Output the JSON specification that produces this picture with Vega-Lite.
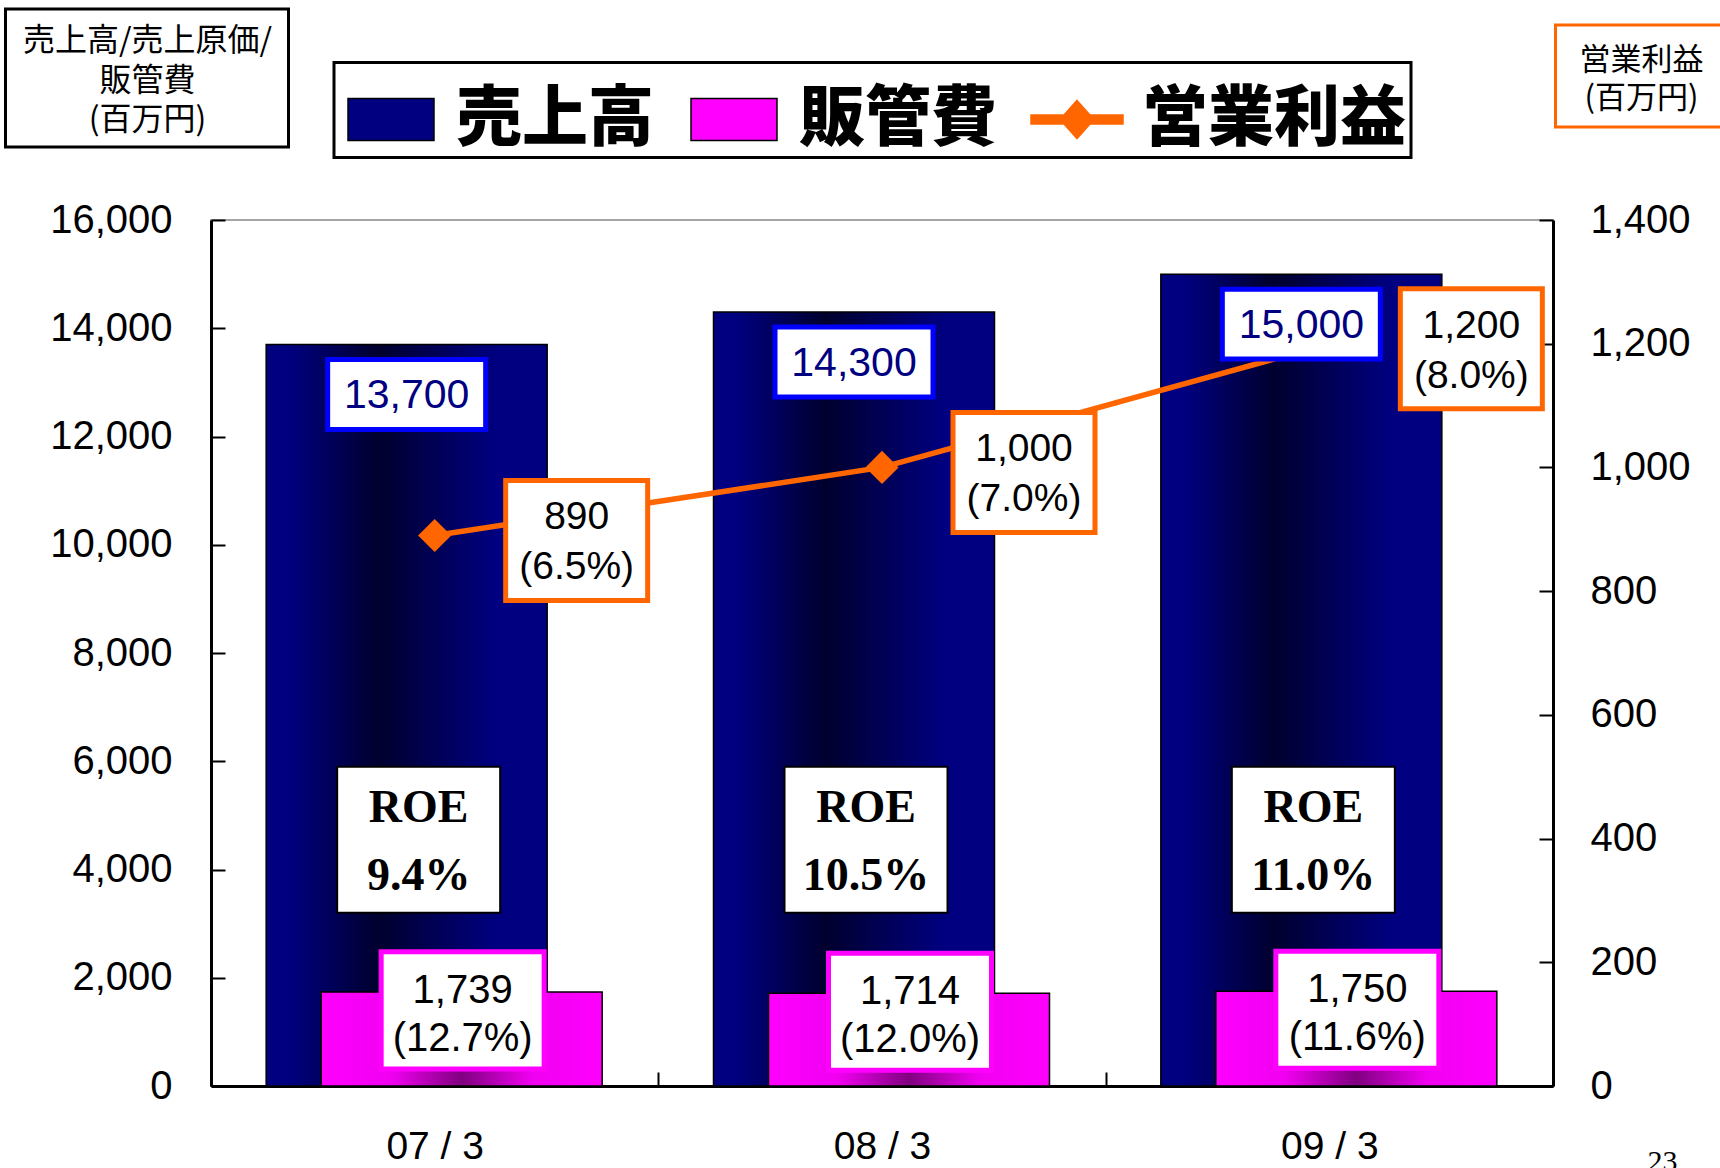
{
  "$schema": "https://vega.github.io/schema/vega-lite/v6.json",
  "width": 1342,
  "height": 866,
  "autosize": {"type": "none"},
  "padding": {"left": 211, "top": 220, "right": 167, "bottom": 82},
  "background": "white",
  "data": {
    "values": [
      {"period": "07/3", "sales": 13700, "sga": 1739, "sga_ratio": "(12.7%)", "op": 890, "op_ratio": "(6.5%)", "roe": 0.094},
      {"period": "08/3", "sales": 14300, "sga": 1714, "sga_ratio": "(12.0%)", "op": 1000, "op_ratio": "(7.0%)", "roe": 0.105},
      {"period": "09/3", "sales": 15000, "sga": 1750, "sga_ratio": "(11.6%)", "op": 1200, "op_ratio": "(8.0%)", "roe": 0.11}
    ]
  },
  "encoding": {
    "x": {
      "field": "period", "type": "nominal",
      "scale": {"paddingInner": 0, "paddingOuter": 0},
      "axis": {
        "orient": "bottom", "labelAngle": 0,
        "labelExpr": "replace(datum.label, '/', ' / ')",
        "labelFont": "Liberation Sans", "labelFontSize": 39, "labelColor": "black",
        "labelPadding": 55, "tickSize": -14, "tickBand": "extent",
        "tickColor": "black", "tickWidth": 2, "domainColor": "black", "domainWidth": 3,
        "grid": false,
        "title": "23", "titleFont": "Liberation Serif", "titleFontSize": 30, "titleFontWeight": "normal",
        "titleColor": "black", "titleX": 1451, "titleY": 84, "titleAlign": "center", "titleBaseline": "alphabetic", "titleAngle": 0
      }
    }
  },
  "layer": [
    {
      "encoding": {
        "y": {
          "type": "quantitative",
          "scale": {"domain": [0, 16000], "nice": false},
          "axis": {
            "orient": "left", "values": [0, 2000, 4000, 6000, 8000, 10000, 12000, 14000, 16000], "format": ",.0f",
            "title": null, "grid": false,
            "labelFont": "Liberation Sans", "labelFontSize": 40, "labelColor": "black", "labelPadding": 53,
            "tickSize": -14, "tickColor": "black", "tickWidth": 2, "domainColor": "black", "domainWidth": 3
          }
        }
      },
      "layer": [
        {
          "mark": {
            "type": "bar", "width": 281, "xOffset": -28, "stroke": "black", "strokeWidth": 1.5,
            "color": {"gradient": "linear", "x1": 0, "x2": 1, "y1": 0, "y2": 0,
              "stops": [{"offset": 0, "color": "#000080"}, {"offset": 0.08, "color": "#000080"}, {"offset": 0.4, "color": "#00002E"}, {"offset": 0.82, "color": "#000080"}, {"offset": 1, "color": "#000080"}]}
          },
          "encoding": {"y": {"field": "sales", "type": "quantitative"}}
        },
        {
          "mark": {
            "type": "bar", "width": 281, "xOffset": 27, "stroke": "black", "strokeWidth": 1.5,
            "color": {"gradient": "linear", "x1": 0, "x2": 1, "y1": 0, "y2": 0,
              "stops": [{"offset": 0, "color": "#FF00FF"}, {"offset": 0.25, "color": "#F000F0"}, {"offset": 0.5, "color": "#800080"}, {"offset": 0.75, "color": "#F000F0"}, {"offset": 1, "color": "#FF00FF"}]}
          },
          "encoding": {"y": {"field": "sga", "type": "quantitative"}}
        }
      ]
    },
    {
      "encoding": {
        "y": {
          "field": "op", "type": "quantitative",
          "scale": {"domain": [0, 1400], "nice": false},
          "axis": {
            "orient": "right", "values": [0, 200, 400, 600, 800, 1000, 1200, 1400], "format": ",.0f",
            "title": null, "grid": false,
            "labelFont": "Liberation Sans", "labelFontSize": 40, "labelColor": "black", "labelPadding": 51,
            "tickSize": -14, "tickColor": "black", "tickWidth": 2, "domainColor": "black", "domainWidth": 3
          }
        }
      },
      "layer": [
        {"mark": {"type": "line", "color": "#FF6600", "strokeWidth": 5.5}},
        {"mark": {"type": "point", "shape": "diamond", "filled": true, "color": "#FF6600", "size": 1100, "opacity": 1}}
      ]
    },
    {
      "layer": [
        {
          "mark": {"type": "point", "shape": "M-1,-0.443H1V0.443H-1Z", "filled": true, "fill": "white", "stroke": "#0000FF", "strokeWidth": 5, "opacity": 1, "size": 24964, "xOffset": -28, "yOffset": 50},
          "encoding": {"y": {"field": "sales", "type": "quantitative", "scale": {"domain": [0, 16000], "nice": false}, "axis": null}}
        },
        {
          "mark": {"type": "text", "font": "Liberation Sans", "fontSize": 41, "color": "#000080", "align": "center", "baseline": "middle", "xOffset": -28, "yOffset": 52},
          "encoding": {
            "y": {"field": "sales", "type": "quantitative", "scale": {"domain": [0, 16000], "nice": false}, "axis": null},
            "text": {"field": "sales", "type": "quantitative", "format": ","}
          }
        },
        {
          "mark": {"type": "point", "shape": "M-1,-0.718H1V0.718H-1Z", "filled": true, "fill": "white", "stroke": "#FF00FF", "strokeWidth": 5, "opacity": 1, "size": 26569, "xOffset": 28, "yOffset": 18.5},
          "encoding": {"y": {"field": "sga", "type": "quantitative", "scale": {"domain": [0, 16000], "nice": false}, "axis": null}}
        },
        {
          "mark": {"type": "text", "font": "Liberation Sans", "fontSize": 40, "color": "black", "align": "center", "baseline": "middle", "xOffset": 28, "yOffset": -1},
          "encoding": {
            "y": {"field": "sga", "type": "quantitative", "scale": {"domain": [0, 16000], "nice": false}, "axis": null},
            "text": {"field": "sga", "type": "quantitative", "format": ","}
          }
        },
        {
          "mark": {"type": "text", "font": "Liberation Sans", "fontSize": 40, "color": "black", "align": "center", "baseline": "middle", "xOffset": 28, "yOffset": 47},
          "encoding": {
            "y": {"field": "sga", "type": "quantitative", "scale": {"domain": [0, 16000], "nice": false}, "axis": null},
            "text": {"field": "sga_ratio", "type": "nominal"}
          }
        },
        {
          "mark": {"type": "point", "shape": "M-1,-0.896H1V0.896H-1Z", "filled": true, "fill": "white", "stroke": "black", "strokeWidth": 2, "opacity": 1, "size": 26569, "xOffset": -16},
          "encoding": {"y": {"datum": 4550, "type": "quantitative", "scale": {"domain": [0, 16000], "nice": false}, "axis": null}}
        },
        {
          "mark": {"type": "text", "text": "ROE", "font": "Liberation Serif", "fontWeight": "bold", "fontSize": 46, "color": "black", "align": "center", "baseline": "middle", "xOffset": -16, "yOffset": -32},
          "encoding": {"y": {"datum": 4550, "type": "quantitative", "scale": {"domain": [0, 16000], "nice": false}, "axis": null}}
        },
        {
          "mark": {"type": "text", "font": "Liberation Serif", "fontWeight": "bold", "fontSize": 46, "color": "black", "align": "center", "baseline": "middle", "xOffset": -16, "yOffset": 36},
          "encoding": {
            "y": {"datum": 4550, "type": "quantitative", "scale": {"domain": [0, 16000], "nice": false}, "axis": null},
            "text": {"field": "roe", "type": "quantitative", "format": ".1%"}
          }
        }
      ]
    },
    {
      "encoding": {
        "y": {"field": "op", "type": "quantitative", "scale": {"domain": [0, 1400], "nice": false}, "axis": null}
      },
      "layer": [
        {"mark": {"type": "point", "shape": "M-1,-0.845H1V0.845H-1Z", "filled": true, "fill": "white", "stroke": "#FF6600", "strokeWidth": 5, "opacity": 1, "size": 20164, "xOffset": 142, "yOffset": 5}},
        {
          "mark": {"type": "text", "font": "Liberation Sans", "fontSize": 39, "color": "black", "align": "center", "baseline": "middle", "xOffset": 142, "yOffset": -18},
          "encoding": {"text": {"field": "op", "type": "quantitative", "format": ","}}
        },
        {
          "mark": {"type": "text", "font": "Liberation Sans", "fontSize": 39, "color": "black", "align": "center", "baseline": "middle", "xOffset": 142, "yOffset": 32},
          "encoding": {"text": {"field": "op_ratio", "type": "nominal"}}
        }
      ]
    },
    {
      "transform": [{"filter": "false"}],
      "mark": {"type": "point", "filled": true, "opacity": 1},
      "encoding": {
        "fill": {
          "field": "series", "type": "nominal",
          "scale": {"domain": ["売上高", "販管費", "営業利益"], "range": ["#000080", "#FF00FF", "#FF6600"]},
          "legend": {"orient": "none", "legendX": 123, "legendY": -157.5, "direction": "horizontal", "title": null,
            "symbolSize": 10404, "symbolStrokeWidth": 1.5, "symbolOpacity": 1,
            "labelFont": "Noto Sans CJK JP", "labelFontWeight": 900, "labelFontSize": 66, "labelColor": "black", "labelLimit": 500,
            "labelOffset": 13, "columnPadding": 28, "padding": 5, "strokeColor": "black"}
        },
        "stroke": {
          "field": "series", "type": "nominal",
          "scale": {"domain": ["売上高", "販管費", "営業利益"], "range": ["#000000", "#000000", "#FF6600"]},
          "legend": {"orient": "none", "legendX": 123, "legendY": -157.5, "direction": "horizontal", "title": null,
            "symbolSize": 10404, "symbolStrokeWidth": 1.5, "symbolOpacity": 1,
            "labelFont": "Noto Sans CJK JP", "labelFontWeight": 900, "labelFontSize": 66, "labelColor": "black", "labelLimit": 500,
            "labelOffset": 13, "columnPadding": 28, "padding": 5, "strokeColor": "black"}
        },
        "shape": {
          "field": "series", "type": "nominal",
          "scale": {"domain": ["売上高", "販管費", "営業利益"], "range": ["M-0.843,-0.412H0.843V0.412H-0.843Z", "M-0.843,-0.412H0.843V0.412H-0.843Z", "M-0.902,-0.088H0.902V0.088H-0.902ZM0,-0.373L0.333,0L0,0.373L-0.333,0Z"]},
          "legend": {"orient": "none", "legendX": 123, "legendY": -157.5, "direction": "horizontal", "title": null,
            "symbolSize": 10404, "symbolStrokeWidth": 1.5, "symbolOpacity": 1,
            "labelFont": "Noto Sans CJK JP", "labelFontWeight": 900, "labelFontSize": 66, "labelColor": "black", "labelLimit": 500,
            "labelOffset": 13, "columnPadding": 28, "padding": 5, "strokeColor": "black"}
        }
      }
    },
    {
      "transform": [{"filter": "false"}],
      "mark": {"type": "point", "filled": true, "opacity": 1},
      "encoding": {
        "color": {
          "datum": "left", "type": "nominal", "scale": {"range": ["#ffffff"]},
          "legend": {"orient": "none", "legendX": -205.5, "legendY": -211,
            "title": ["売上高/売上原価/", "販管費", "(百万円)"],
            "titleFont": "Noto Sans CJK JP", "titleFontSize": 32, "titleFontWeight": "normal", "titleColor": "black",
            "titleAlign": "center", "titleAnchor": "middle", "titleLineHeight": 39.5, "titlePadding": 5, "titleLimit": 600,
            "titleOrient": "bottom",
            "labelExpr": "''", "labelFontSize": 1, "labelOffset": 0, "clipHeight": 1,
            "symbolSize": 68121, "symbolOpacity": 0, "symbolStrokeWidth": 0,
            "padding": 11, "strokeColor": "black"}
        }
      }
    },
    {
      "transform": [{"filter": "false"}],
      "mark": {"type": "point", "filled": true, "opacity": 1},
      "encoding": {
        "size": {
          "datum": "right", "type": "ordinal", "scale": {"range": [21316, 21316]},
          "legend": {"orient": "none", "legendX": 1344.5, "legendY": -195,
            "title": ["営業利益", "(百万円)"],
            "titleFont": "Noto Sans CJK JP", "titleFontSize": 31, "titleFontWeight": "normal", "titleColor": "black",
            "titleAlign": "center", "titleAnchor": "middle", "titleLineHeight": 37.5, "titlePadding": 7, "titleLimit": 600,
            "titleOrient": "bottom",
            "labelExpr": "''", "labelFontSize": 1, "labelOffset": 0, "clipHeight": 1,
            "symbolOpacity": 0, "symbolStrokeWidth": 0,
            "padding": 13, "strokeColor": "#FF6600"}
        }
      }
    }
  ],
  "resolve": {"scale": {"y": "independent"}, "axis": {"y": "independent"}},
  "config": {
    "view": {"stroke": "#888888", "strokeWidth": 1.5},
    "legend": {"strokeWidth": 3}
  }
}
